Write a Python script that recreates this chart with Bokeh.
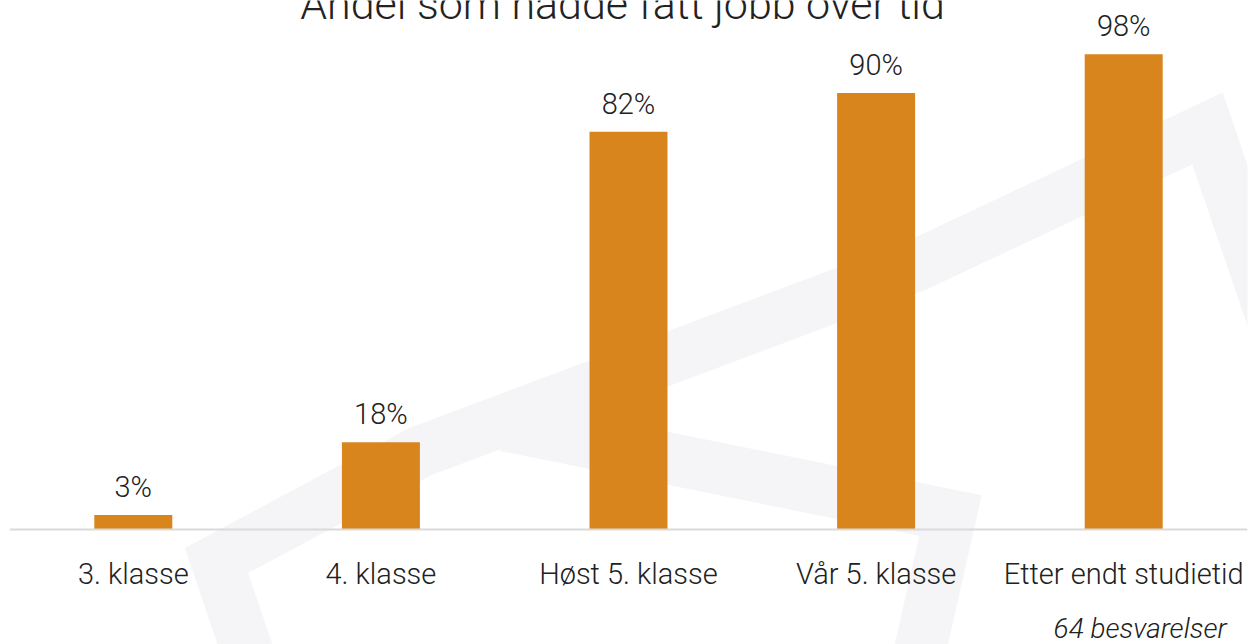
from bokeh.plotting import figure
from bokeh.models import FactorRange, Range1d, Span
from bokeh.core.properties import value
from bokeh.embed import file_html
from bokeh.resources import INLINE

# ---- data ----
categories = ["3. klasse", "4. klasse", "Høst 5. klasse", "Vår 5. klasse", "Etter endt studietid"]
shares = [3, 18, 82, 90, 98]
share_labels = ["3%", "18%", "82%", "90%", "98%"]
title_text = "Andel som hadde fått jobb over tid"
note_text = "64 besvarelser"

# ---- layout / style ----
W, H = 1256, 644
SIDE = 9
BASE_PX = 529          # pixel row of the zero line
PX_PER_UNIT = 4.85     # pixels per percentage point
FONT = "Roboto Light, Roboto"
BAR = "#d9851e"
TXT = "#212121"

y_start = -(H - BASE_PX) / PX_PER_UNIT
y_end = BASE_PX / PX_PER_UNIT
CAT_PX = (W - 2 * SIDE) / len(categories)

p = figure(width=W, height=H,
           x_range=FactorRange(factors=categories),
           y_range=Range1d(y_start, y_end),
           output_backend="svg", toolbar_location=None,
           x_axis_location=None, y_axis_location=None,
           min_border_left=SIDE, min_border_right=SIDE,
           min_border_top=0, min_border_bottom=0)

p.outline_line_color = None
p.xgrid.grid_line_color = None
p.ygrid.grid_line_color = None
p.background_fill_color = "white"
p.border_fill_color = "white"


# faint decorative watermark, described in page pixels
def wx(px_list):
    return [(v - SIDE) / CAT_PX for v in px_list]


def wy(px_list):
    return [(BASE_PX - v) / PX_PER_UNIT for v in px_list]


wm_color = "#f5f5f8"
p.line(x=wx([250, 216, 420, 916, 1207, 1300]), y=wy([660, 560, 451, 265, 128, 400]),
       line_color=wm_color, line_width=52, line_join="miter")
p.line(x=wx([505, 950, 915]), y=wy([425, 515, 670]),
       line_color=wm_color, line_width=52, line_join="miter")

# zero line
p.add_layout(Span(location=0, dimension="width", line_color="#dadada", line_width=2))

p.vbar(x=categories, top=shares, width=0.315, fill_color=BAR, line_color=None)

# value labels
p.text(x=categories, y=shares, text=share_labels, text_align="center",
       text_baseline="alphabetic", y_offset=-28,
       text_font=value(FONT), text_font_size="29px", text_color=TXT)

# category labels
p.text(x=categories, y=[0] * len(categories), text=categories, text_align="center",
       text_baseline="alphabetic", y_offset=44,
       text_font=value(FONT), text_font_size="29px", text_color=TXT)

# chart title (clipped at the top as in the original)
p.text(x=[categories[2]], y=[y_end], text=[title_text], text_align="center",
       text_baseline="alphabetic", x_offset=-6, y_offset=3,
       text_font=value(FONT), text_font_size="43px", text_color="#222222")

# response count note
p.text(x=[categories[4]], y=[0], text=[note_text], text_align="right",
       text_baseline="alphabetic", x_offset=103, y_offset=99,
       text_font=value(FONT), text_font_style="italic", text_font_size="28px",
       text_color=TXT)

open("out.html", "w").write(file_html(p, INLINE))
